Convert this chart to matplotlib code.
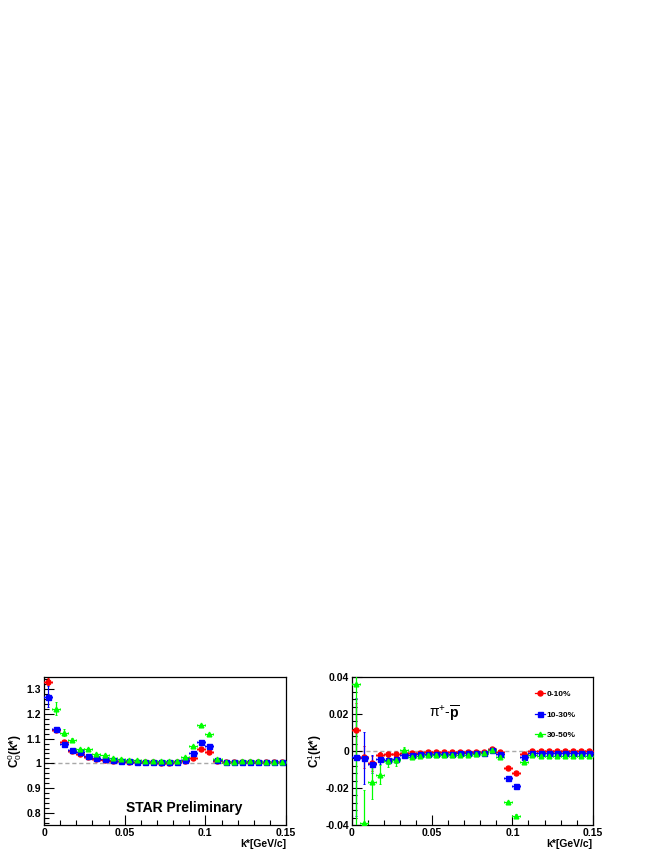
import numpy as np
import matplotlib
matplotlib.use("Agg")
import matplotlib.pyplot as plt
from matplotlib.ticker import MultipleLocator
from matplotlib.lines import Line2D

plt.rcParams['font.family'] = ['Liberation Sans', 'DejaVu Sans']
plt.rcParams['mathtext.fontset'] = 'custom'
plt.rcParams['mathtext.rm'] = 'Liberation Sans'
plt.rcParams['mathtext.bf'] = 'Liberation Sans:bold'
plt.rcParams['mathtext.it'] = 'Liberation Sans:italic'

# -- data -------------------------------------------------------------
kstar = [0.0025, 0.0075, 0.0125, 0.0175, 0.0225, 0.0275, 0.0325, 0.0375, 0.0425, 0.0475,
         0.0525, 0.0575, 0.0625, 0.0675, 0.0725, 0.0775, 0.0825, 0.0875, 0.0925, 0.0975,
         0.1025, 0.1075, 0.1125, 0.1175, 0.1225, 0.1275, 0.1325, 0.1375, 0.1425, 0.1475]
kerr = 0.0025

labels = ['0-10%', '10-30%', '30-50%']

# C00
c00_r = [1.331, 1.135, 1.086, 1.050, 1.036, 1.024, 1.019, 1.013, 1.010, 1.008,
         1.006, 1.005, 1.004, 1.004, 1.003, 1.003, 1.004, 1.009, 1.023, 1.057,
         1.046, 1.010, 1.004, 1.004, 1.005, 1.005, 1.005, 1.004, 1.004, 1.004]
c00_b = [1.270, 1.138, 1.077, 1.053, 1.046, 1.031, 1.022, 1.016, 1.013, 1.011,
         1.008, 1.007, 1.006, 1.005, 1.005, 1.005, 1.005, 1.015, 1.040, 1.088,
         1.069, 1.012, 1.004, 1.004, 1.005, 1.005, 1.005, 1.005, 1.005, 1.004]
c00_g = [np.nan, 1.222, 1.124, 1.095, 1.057, 1.057, 1.039, 1.035, 1.020, 1.018,
         1.013, 1.012, 1.010, 1.009, 1.008, 1.008, 1.009, 1.026, 1.070, 1.156,
         1.120, 1.017, 1.006, 1.007, 1.008, 1.008, 1.008, 1.007, 1.007, 1.006]
c00_r_err = [0.015, 0.008, 0.006, 0.005, 0.004, 0.003, 0.003, 0.003, 0.003, 0.003,
             0.003, 0.003, 0.003, 0.003, 0.003, 0.003, 0.003, 0.003, 0.003, 0.003,
             0.003, 0.003, 0.003, 0.003, 0.003, 0.003, 0.003, 0.003, 0.003, 0.003]
c00_b_err = [0.042, 0.010, 0.007, 0.005, 0.004, 0.003, 0.003, 0.003, 0.003, 0.003,
             0.003, 0.003, 0.003, 0.003, 0.003, 0.003, 0.003, 0.003, 0.003, 0.003,
             0.003, 0.003, 0.003, 0.003, 0.003, 0.003, 0.003, 0.003, 0.003, 0.003]
c00_g_err = [0.0, 0.025, 0.014, 0.008, 0.007, 0.006, 0.005, 0.004, 0.004, 0.003,
             0.003, 0.003, 0.003, 0.003, 0.003, 0.003, 0.003, 0.003, 0.003, 0.003,
             0.003, 0.003, 0.003, 0.003, 0.003, 0.003, 0.003, 0.003, 0.003, 0.003]

# C11
c11_r = [0.0111, -0.0033, -0.0067, -0.0024, -0.0018, -0.0015, -0.0012, -0.0010, -0.0009, -0.0005,
         -0.0006, -0.0006, -0.0005, -0.0004, -0.0004, -0.0003, -0.0003, 0.0009, -0.0005, -0.0091,
         -0.0118, -0.0018, 0.0001, 0.0002, 0.0001, 0.0000, 0.0000, 0.0000, 0.0000, -0.0001]
c11_b = [-0.0033, -0.0036, -0.0069, -0.0042, -0.0049, -0.0042, -0.0024, -0.0019, -0.0017, -0.0015,
         -0.0015, -0.0014, -0.0014, -0.0013, -0.0013, -0.0011, -0.0010, 0.0007, -0.0015, -0.0145,
         -0.0191, -0.0031, -0.0009, -0.0009, -0.0010, -0.0010, -0.0010, -0.0010, -0.0010, -0.0010]
c11_g = [0.0364, -0.0390, -0.0169, -0.0127, -0.0055, -0.0050, 0.0004, -0.0030, -0.0025, -0.0023,
         -0.0022, -0.0022, -0.0021, -0.0020, -0.0020, -0.0016, -0.0010, 0.0005, -0.0030, -0.0278,
         -0.0351, -0.0058, -0.0024, -0.0025, -0.0025, -0.0025, -0.0025, -0.0025, -0.0025, -0.0026]
c11_r_err = [0.015, 0.006, 0.004, 0.002, 0.0015, 0.001, 0.001, 0.0008, 0.0007, 0.0006,
             0.0005, 0.0005, 0.0005, 0.0005, 0.0005, 0.0005, 0.0005, 0.0005, 0.0005, 0.0005,
             0.0005, 0.0005, 0.0005, 0.0005, 0.0005, 0.0005, 0.0005, 0.0005, 0.0005, 0.0005]
c11_b_err = [0.032, 0.014, 0.005, 0.003, 0.002, 0.002, 0.0015, 0.001, 0.0008, 0.0007,
             0.0006, 0.0006, 0.0006, 0.0006, 0.0006, 0.0006, 0.0006, 0.0006, 0.0006, 0.0006,
             0.0006, 0.0006, 0.0006, 0.0006, 0.0006, 0.0006, 0.0006, 0.0006, 0.0006, 0.0006]
c11_g_err = [0.080, 0.018, 0.009, 0.005, 0.003, 0.003, 0.002, 0.0015, 0.001, 0.0009,
             0.0008, 0.0008, 0.0008, 0.0008, 0.0008, 0.0008, 0.0008, 0.0008, 0.0008, 0.0008,
             0.0008, 0.0008, 0.0008, 0.0008, 0.0008, 0.0008, 0.0008, 0.0008, 0.0008, 0.0008]

# -- style ------------------------------------------------------------
styles = [
    dict(color='#ff0000', marker='o', ms=3.6),
    dict(color='#0000ff', marker='s', ms=3.6),
    dict(color='#00ff00', marker='^', ms=3.4),
]
tick_font = dict(fontsize=7.5, fontweight='bold')


def draw_panel(ax, series, errs, ylim, ymajor, yminor, ref):
    ax.axhline(ref, color='#a8a8a8', ls=(0, (3, 2)), lw=1.0, zorder=1)
    for y, e, st in zip(series, errs, styles):
        ax.errorbar(kstar, y, xerr=kerr, yerr=e, fmt=st['marker'], color=st['color'],
                    ms=st['ms'], mec=st['color'], mfc=st['color'], elinewidth=0.9,
                    capsize=1.0, capthick=0.7, zorder=3)
    ax.set_xlim(0, 0.15)
    ax.set_ylim(*ylim)
    ax.xaxis.set_major_locator(MultipleLocator(0.05))
    ax.xaxis.set_minor_locator(MultipleLocator(0.01))
    ax.yaxis.set_major_locator(MultipleLocator(ymajor))
    ax.yaxis.set_minor_locator(MultipleLocator(yminor))
    ax.tick_params(which='both', direction='in', top=False, right=False, pad=2)
    ax.tick_params(which='major', length=7, width=0.8)
    ax.tick_params(which='minor', length=3.5, width=0.8)
    for sp in ax.spines.values():
        sp.set_linewidth(0.9)
    ax.set_xlabel('k*[GeV/c]', fontsize=7.5, fontweight='bold', loc='right', labelpad=1)


fig = plt.figure(figsize=(6.62, 8.57), dpi=100)

# -- left panel: C00 --------------------------------------------------
ax1 = fig.add_axes((0.0665, 0.0373, 0.3656, 0.1727))
draw_panel(ax1, [c00_r, c00_b, c00_g], [c00_r_err, c00_b_err, c00_g_err],
           (0.75, 1.35), 0.1, 0.02, 1.0)
ax1.set_xticks([0, 0.05, 0.1, 0.15], ['0', '0.05', '0.1', '0.15'], **tick_font)
ax1.set_yticks([0.8, 0.9, 1.0, 1.1, 1.2, 1.3], ['0.8', '0.9', '1', '1.1', '1.2', '1.3'], **tick_font)
ax1.set_ylabel(r'C$^{0}_{0}$(k*)', fontsize=8.5, fontweight='bold', labelpad=2)
ax1.text(0.0505, 0.818, 'STAR Preliminary', fontsize=10, fontweight='bold', va='center')

# -- right panel: C11 -------------------------------------------------
ax2 = fig.add_axes((0.5313, 0.0373, 0.3641, 0.1727))
draw_panel(ax2, [c11_r, c11_b, c11_g], [c11_r_err, c11_b_err, c11_g_err],
           (-0.04, 0.04), 0.02, 0.004, 0.0)
ax2.set_xticks([0, 0.05, 0.1, 0.15], ['0', '0.05', '0.1', '0.15'], **tick_font)
ax2.set_yticks([-0.04, -0.02, 0, 0.02, 0.04], ['-0.04', '-0.02', '0', '0.02', '0.04'], **tick_font)
ax2.set_ylabel(r'C$^{1}_{1}$(k*)', fontsize=8.5, fontweight='bold', labelpad=1)
ax2.text(0.048, 0.0205, r'π$^{+}$-$\mathbf{\overline{p}}$', fontsize=10, va='center')

handles = [Line2D([], [], color=st['color'], marker=st['marker'], ms=st['ms'], lw=0.9)
           for st in styles]
ax2.legend(handles, labels, loc='upper left', bbox_to_anchor=(0.745, 0.935), frameon=False,
           prop=dict(size=6, weight='bold'), handlelength=1.3, handletextpad=0.15,
           labelspacing=1.55, borderaxespad=0)

fig.savefig('out.png', dpi=100)
